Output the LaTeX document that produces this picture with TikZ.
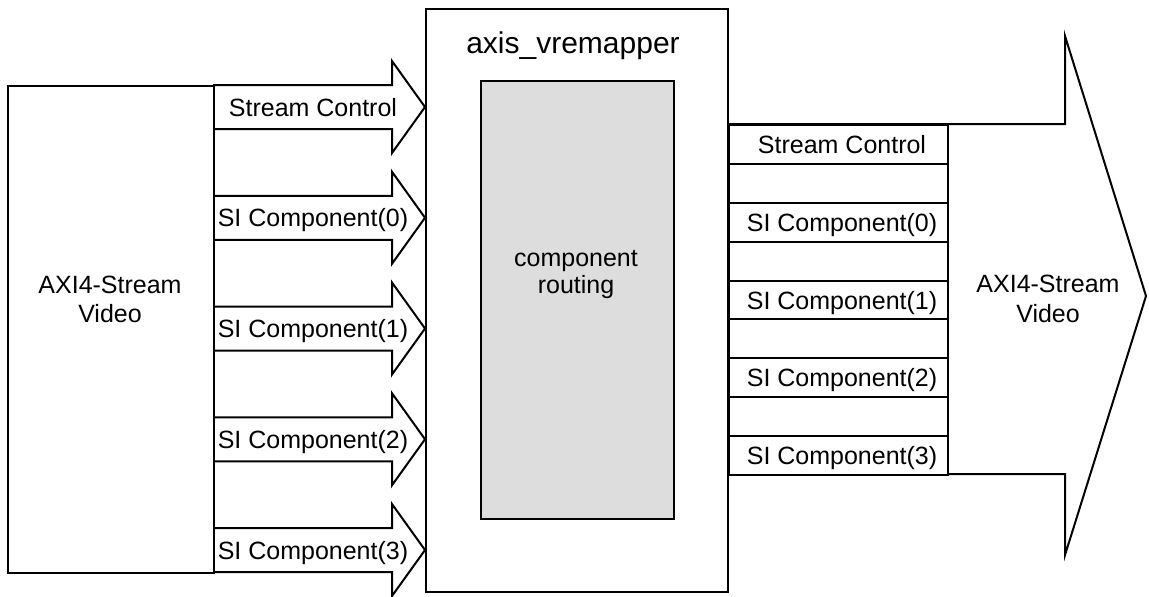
\documentclass[tikz,border=0pt]{standalone}
\usepackage{fontspec}
\setmainfont{Liberation Sans}
\definecolor{routegray}{RGB}{221,221,221}
\begin{document}
\begin{tikzpicture}[x=0.5pt,y=-0.5pt,line width=1pt,line join=miter,
  txt/.style={font=\fontsize{12.5}{14.5}\selectfont,inner sep=0pt,anchor=base},
  ttl/.style={font=\fontsize{15}{18}\selectfont,inner sep=0pt,anchor=base},
  blk/.style={draw,fill=white,inner sep=0pt,anchor=north west},
  cell/.style={draw,fill=white,inner sep=0pt,anchor=north west,
    minimum width=109.5pt,minimum height=19.44pt},
  fat/.style={draw,fill=white}]
\useasboundingbox (0,0) rectangle (1149,596);

% per-channel input arrows
\foreach \c/\t/\n in {107/Stream Control/in0,
                      217.75/SI Component(0)/in1,
                      328.5/SI Component(1)/in2,
                      439.25/SI Component(2)/in3,
                      550/SI Component(3)/in4}{
  \draw[fat] (213,\c-22) -- (392,\c-22) -- (392,\c-46) -- (425,\c)
    -- (392,\c+46) -- (392,\c+22) -- (213,\c+22);
  \node[txt] (\n) at (313,\c+9) {\t};
}

% incoming video stream block
\node[blk,fill=none,minimum width=103pt,minimum height=243.5pt] (src) at (7,85) {};

% outgoing video stream arrow
\draw[fat] (727,124) -- (1065,124) -- (1065,36) -- (1146,296)
  -- (1065,555) -- (1065,474) -- (727,474);

% core block and routing fabric
\node[blk,minimum width=151pt,minimum height=291.5pt] (core) at (425,8) {};
\node[blk,fill=routegray,minimum width=96.5pt,minimum height=219pt] (route) at (480,80) {};

% output channel stack
\foreach \k in {0,...,8}{
  \node[cell] (c\k) at (728,124+\k*38.889) {};
}
\node[txt] at ([xshift=1.75pt,yshift=-4.5pt]c0.center) {Stream Control};
\node[txt] at ([xshift=1.75pt,yshift=-4.5pt]c2.center) {SI Component(0)};
\node[txt] at ([xshift=1.75pt,yshift=-4.5pt]c4.center) {SI Component(1)};
\node[txt] at ([xshift=1.75pt,yshift=-4.5pt]c6.center) {SI Component(2)};
\node[txt] at ([xshift=1.75pt,yshift=-4.5pt]c8.center) {SI Component(3)};

% labels
\node[ttl] (title) at (573,53) {axis\_vremapper};
\node[txt] (rt1) at (576,266) {component};
\node[txt] (rt2) at (576,293) {routing};
\node[txt] (sl1) at (110,293) {AXI4-Stream};
\node[txt] (sl2) at (110,322) {Video};
\node[txt] (dl1) at (1048,292) {AXI4-Stream};
\node[txt] (dl2) at (1048,322) {Video};
\end{tikzpicture}
\end{document}
